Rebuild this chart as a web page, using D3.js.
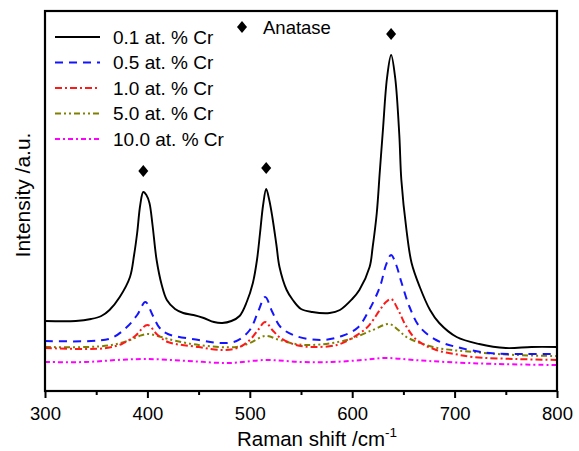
<!DOCTYPE html>
<html lang="en">
<head>
<meta charset="UTF-8">
<title>Raman</title>
<style>
  *{margin:0;padding:0;}
  body{background:#fff;}
  #chart{width:579px;height:451px;}
  text{font-family:Arial,"Liberation Sans",sans-serif;fill:#000;}
</style>
</head>
<body>
<div id="chart"></div>
<script src="https://cdn.jsdelivr.net/npm/d3@7"></script>
<script>
// Raman shift (cm-1) and intensity (a.u.)
var shift01 = [300,330,345,355,363,373,383,387,390,393,396,399,402,405,409,414,419,427,435,445,455,465,473,482,490,497,503,507,510,513,516,519,522,526,529,536,542,550,561,578,588,600,607,617,620,624,627,630,634,638,642,646,648,653,658,666,676,685,702,724,750,775,800]
var int01   = [70,70,72,75,81,94,114,136,158,186,199,196,188,166,131,106,91,82,78,76,73,69,68,70,75,89,108,131,158,186,202,191,174,146,124,101,91,82,79,78,81,92,101,124,144,178,220,261,313,336,313,256,211,161,128,104,81,68,54,47,43,44,44]

var shift05 = [300,345,365,380,390,398,405,412,420,450,470,487,500,508,515,522,530,545,570,590,605,615,627,633,638,643,648,656,666,682,702,734,770,800]
var int05   = [50,50,53,64,76,89,76,63,57,51,48,50,61,79,94,79,64,55,51,55,63,78,104,126,136,126,109,84,64,51,44,38,37,37]

var shift10 = [300,340,360,375,388,400,410,420,450,472,488,500,508,515,522,530,545,562,585,600,615,627,633,638,645,652,663,682,700,718,760,800]
var int10   = [43,42,43,47,55,66,56,49,44,41,43,51,61,69,61,53,46,44,46,53,64,81,89,92,81,66,51,41,37,34,32,31]

var shift50 = [300,340,365,383,392,400,410,420,450,487,500,515,529,545,561,595,620,636,645,653,679,718,760,800]
var int50   = [44,44,46,51,55,57,55,52,46,44,48,55,51,47,46,51,61,67,61,54,44,39,36,35]

var shift100 = [300,340,370,400,440,480,515,550,580,610,633,660,692,740,800]
var int100   = [29,29,31,32,30,28,31,29,29,31,33,31,29,27,26]

var labels = ['0.1 at. % Cr','0.5 at. % Cr','1.0 at. % Cr','5.0 at. % Cr','10.0 at. % Cr']
var colors = ['#000000','#1414ff','#ff1a1a','#808000','#ff00ff']
var dashes = [null,'8,6','7,3,2,3','6,3,2,3,2,3','5,3,2,3']
var anatasePeaks = [396,516,638]
var xTicks = [300,400,500,600,700,800]
var xMinor = [350,450,550,650,750]

var series = [
  {x:shift01,y:int01},{x:shift05,y:int05},{x:shift10,y:int10},
  {x:shift50,y:int50},{x:shift100,y:int100}
]

var W = 579, H = 451
var m = {left:45, top:11, right:22, bottom:60}
var gw = W - m.left - m.right, gh = H - m.top - m.bottom

var svg = d3.select('#chart').append('svg').attr('width', W).attr('height', H)
var g = svg.append('g').attr('transform', `translate(${m.left},${m.top})`)

var sx = d3.scaleLinear().domain([300, 800]).range([0, gw])
var sy = d3.scaleLinear().domain([0, 380]).range([gh, 0])

var line = d3.line()
  .x(function(d){return sx(d[0])})
  .y(function(d){return sy(d[1])})
  .curve(d3.curveCatmullRom.alpha(0.5))

// draw weaker series first so the black one sits on top
for (var i = series.length - 1; i >= 0; i--) {
  var pts = series[i].x.map(function(v, k){return [v, series[i].y[k]]})
  g.append('path').attr('d', line(pts))
    .attr('fill', 'none')
    .attr('stroke', colors[i])
    .attr('stroke-width', i == 0 ? 1.9 : 2)
    .attr('stroke-dasharray', dashes[i])
}

// diamonds over the anatase peaks
var diamond = 'M0,-6L5,0L0,6L-5,0Z'
anatasePeaks.forEach(function(p){
  var k = d3.minIndex(shift01, function(v){return Math.abs(v - p)})
  g.append('path').attr('d', diamond)
    .attr('transform', `translate(${sx(p)},${sy(int01[k]) - 21})`)
    .attr('fill', '#000')
})

// axes
var xAxis = d3.axisBottom(sx).tickValues(xTicks).tickSize(7).tickPadding(9)
var gx = g.append('g').attr('transform', `translate(0,${gh})`).call(xAxis)
gx.select('.domain').remove()
gx.selectAll('line').attr('stroke', '#000').attr('stroke-width', 2)
gx.selectAll('text').attr('font-size', '18.5px').attr('fill', '#000')

var gm = g.append('g').attr('transform', `translate(0,${gh})`)
  .call(d3.axisBottom(sx).tickValues(xMinor).tickSize(4).tickFormat(''))
gm.select('.domain').remove()
gm.selectAll('line').attr('stroke', '#000').attr('stroke-width', 2)

g.append('rect').attr('width', gw).attr('height', gh)
  .attr('fill', 'none').attr('stroke', '#000').attr('stroke-width', 2.2)

// titles
var xt = svg.append('text').attr('x', 317).attr('y', 446)
  .attr('text-anchor', 'middle').attr('font-size', '20.5px')
xt.append('tspan').text('Raman shift /cm')
xt.append('tspan').text('-1').attr('font-size', '13.5px').attr('dy', '-9')

svg.append('text').attr('transform', 'translate(30,195) rotate(-90)')
  .attr('text-anchor', 'middle').attr('font-size', '21px')
  .text('Intensity /a.u.')

// legend
var lg = svg.append('g')
labels.forEach(function(t, i){
  var cy = 37 + i * 25.5
  lg.append('line').attr('x1', 55).attr('x2', 100).attr('y1', cy).attr('y2', cy)
    .attr('stroke', colors[i]).attr('stroke-width', 2)
    .attr('stroke-dasharray', dashes[i])
  lg.append('text').attr('x', 113).attr('y', cy).attr('dy', '0.35em')
    .attr('font-size', '19px').text(t)
})
lg.append('path').attr('d', diamond).attr('transform', 'translate(242,27)').attr('fill', '#000')
lg.append('text').attr('x', 263).attr('y', 28).attr('dy', '0.35em')
  .attr('font-size', '18.5px').text('Anatase')
</script>
</body>
</html>
